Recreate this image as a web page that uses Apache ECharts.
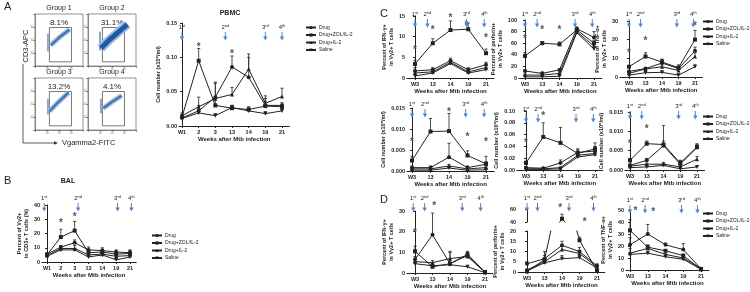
<!DOCTYPE html>
<html>
<head>
<meta charset="utf-8">
<script src="https://cdn.jsdelivr.net/npm/echarts@6/dist/echarts.min.js"></script>
<style>
  html, body { margin: 0; background: #fff; }
  #chart { width: 750px; height: 292px; }
</style>
</head>
<body>
<div id="chart"></div>
<script>
// treatment groups, shared by every line panel
const groups = ['Drug', 'Drug+ZOL/IL-2', 'Drug+IL-2', 'Saline'];
const groupSymbols = ['circle', 'rect', 'triangle', 'path://M0,0L10,0L5,9Z'];
const weeksAB = ['W1', '2', '3', '13', '14', '19', '21'];
const weeksCD = ['W3', '13', '14', '19', '21'];
const shotLabels = ['1st', '2nd', '3rd', '4th'];

// A: flow plots (percent gated)
const flowGroups = ['Group 1', 'Group 2', 'Group 3', 'Group 4'];
const flowPct = ['8.1%', '31.1%', '13.2%', '4.1%'];
const flowStreak = [[[27, 28], [27, 62]], [[25, 30], [25, 66]], [[27, 30], [27, 60]], [[27, 32], [27, 60]]];
const flowCloud = [
  [[33, 40], [52, 56], [72, 70]],
  [[27, 34], [44, 50], [62, 64], [82, 80]],
  [[30, 36], [50, 55], [70, 72]],
  [[32, 42], [50, 54], [70, 66]]
];
const flowGate = [[30, 8], [76, 74]];

// PBMC (cell number x10^6/ml), order = groups
const pbmcMean = [
  [0.012, 0.022, 0.042, 0.086, 0.071, 0.030, 0.030],
  [0.013, 0.095, 0.030, 0.026, 0.024, 0.029, 0.028],
  [0.015, 0.028, 0.040, 0.046, 0.083, 0.033, 0.043],
  [0.011, 0.019, 0.015, 0.027, 0.022, 0.018, 0.022]
];
const pbmcTop = [
  [0.016, 0.030, 0.062, 0.102, 0.100, 0.040, 0.034],
  [0.017, 0.113, 0.038, 0.030, 0.028, 0.036, 0.032],
  [0.019, 0.042, 0.064, 0.056, 0.105, 0.044, 0.055],
  [0.013, 0.024, 0.018, 0.030, 0.026, 0.021, 0.026]
];
const pbmcStars = [[1, 0.118], [3, 0.107]];
const pbmcShots = [0, 2.6, 5, 6];

// B: BAL percent of Vg2+ in CD3+
const balMean = [
  [5.5, 10.5, 13.5, 8.5, 8, 7, 6.5],
  [5, 17.5, 22, 6.5, 7, 5.5, 6],
  [4.5, 9.5, 9.5, 5, 5.5, 4, 4.5],
  [4, 8.5, 8.5, 3.5, 5, 1.5, 3.5]
];
const balTop = [
  [6.5, 11.5, 15.5, 10.5, 10, 8.5, 8.5],
  [6, 23, 28.5, 8.5, 9, 7, 8],
  [5.5, 11, 11.5, 6.5, 7, 5, 5.5],
  [5, 9.5, 9.5, 4.5, 6, 2, 4.5]
];
const balStars = [[1, 28.5], [2, 33]];
const balShots = [-0.2, 2.25, 5.1, 6.1];

// C row 1: percent IFN-g, perforin, TNF-a
const c1Mean = [[1.7, 2, 4.2, 2, 3.2], [3.4, 8.4, 11.6, 11.8, 6], [1.2, 1.5, 3.8, 1.5, 2.5], [0.5, 1.2, 3.5, 1.2, 2]];
const c1Top = [[2.5, 2.5, 4.8, 2.5, 3.8], [4.3, 9.5, 13.8, 13.3, 7], [1.8, 2, 4.3, 2, 3], [1, 1.6, 4, 1.5, 2.4]];
const c1Stars = [[0, 7.2], [1, 12], [2, 15], [2.9, 13.3], [4, 10]];
const c2Mean = [[12, 8, 14, 85, 70], [38, 60, 58, 83, 60], [5, 5, 8, 80, 55], [2, 2, 3, 78, 50]];
const c2Top = [[14, 10, 16, 88, 80], [44, 62, 62, 86, 65], [7, 7, 10, 83, 60], [3, 3, 4, 81, 54]];
const c2Stars = [[0, 70], [1, 86], [2, 86]];
const c3Mean = [[3, 4.5, 7.5, 4.5, 14], [5.5, 11, 8, 5, 20], [2, 4.3, 5.5, 3.5, 11], [1, 2.3, 2.5, 1, 5.5]];
const c3Top = [[3.5, 5, 9.5, 5.5, 16], [6, 13, 9.5, 6.5, 25], [2.5, 5, 6.5, 4.5, 13], [1.5, 3, 3, 1.5, 6.5]];
const c3Stars = [[0, 14], [1, 20], [4, 28]];
const cShots = [0, 0.7, 2.9, 3.9];

// C row 2: cell numbers
const c4Mean = [[0.0008, 0.0008, 0.0033, 0.0008, 0.0016], [0.0025, 0.0094, 0.0095, 0.0037, 0.0017], [0.0005, 0.0005, 0.0012, 0.0005, 0.0008], [0.0002, 0.0002, 0.0007, 0.0002, 0.0003]];
const c4Top = [[0.0012, 0.0012, 0.0066, 0.0012, 0.0035], [0.0035, 0.0125, 0.0137, 0.0048, 0.0022], [0.0007, 0.0007, 0.0016, 0.0007, 0.001], [0.0003, 0.0003, 0.0009, 0.0003, 0.0004]];
const c4Stars = [[0, 0.0074], [2, 0.0145], [3, 0.0086], [4, 0.0074]];
const c5Mean = [[0.004, 0.003, 0.012, 0.030, 0.032], [0.012, 0.056, 0.046, 0.028, 0.036], [0.002, 0.002, 0.004, 0.025, 0.028], [0.001, 0.001, 0.002, 0.022, 0.026]];
const c5Top = [[0.006, 0.004, 0.017, 0.036, 0.040], [0.015, 0.080, 0.072, 0.034, 0.046], [0.003, 0.003, 0.005, 0.030, 0.033], [0.002, 0.002, 0.003, 0.026, 0.030]];
const c5Stars = [[0, 0.048], [1, 0.094]];
const c6Mean = [[0.0012, 0.0025, 0.0063, 0.0015, 0.0058], [0.0025, 0.0068, 0.0066, 0.0018, 0.006], [0.001, 0.0015, 0.0015, 0.0008, 0.0028], [0.0006, 0.0008, 0.0012, 0.0003, 0.0008]];
const c6Top = [[0.0015, 0.003, 0.0075, 0.0025, 0.0065], [0.003, 0.0075, 0.0115, 0.0025, 0.0068], [0.0013, 0.0018, 0.002, 0.001, 0.0035], [0.0008, 0.001, 0.0015, 0.0005, 0.001]];
const c6Stars = [[0, 0.0072], [1, 0.011]];

// D: percent IFN-g, perforin (broken axis), TNF-a
const d1Mean = [[6.5, 18.5, 4.5, 8.5, 0.5], [10.5, 3, 4.5, 9, 0.5], [5.5, 5, 7, 8, 0.3], [4.5, 3.5, 4, 3, 0.2]];
const d1Top = [[8, 29, 10, 10, 1], [13, 4, 6, 10.5, 0.8], [7, 6, 10.5, 9, 0.6], [5.5, 4.5, 5, 3.5, 0.5]];
const d1Stars = [[0, 20], [1.1, 33.5]];
const d1Shots = [-0.1, 0.55, 2.7, 3.75];
const d2Mean = [[4, 6.5, 13, 10, 3], [0.3, 6, 45, 15.5, 0.5], [1, 5, 11, 9, 2.5], [0.5, 4.5, 6.5, 7, 2]];
const d2Top = [[5, 10, 15, 12, 4], [0.5, 8, 52, 17, 1], [1.5, 6.5, 13, 10.5, 3], [1, 5.5, 8, 8, 2.5]];
const d2Stars = [[1.9, 64], [3.3, 42]];
const d2Shots = [0, 0.6, 2.4, 3.8];
const d3Mean = [[21, 30, 21, 17, 1], [33, 19, 16, 12, 0.5], [14, 18, 13, 10, 1.5], [13, 14, 11, 9, 0.5]];
const d3Top = [[27, 38, 22.5, 22, 2], [42, 21, 17, 13, 1], [18, 20, 14, 11, 2], [14, 15, 12, 10, 1]];
const d3Stars = [[0.3, 51], [1.3, 50]];
const d3Shots = [0, 0.85, 2.9, 3.8];

const FONT = '"Liberation Sans", Arial, sans-serif';
const ink = '#222';
const shotBlue = '#4f86c6';

const grid = [], xAxis = [], yAxis = [], series = [], graphic = [];

function txt(style) {
  return Object.assign({ fontFamily: FONT, color: ink, fontWeight: 'bold' }, style);
}

function addPanel(p) {
  const gi = grid.length;
  const n = p.cats.length;
  const step = (p.lastX - p.firstX) / (n - 1);
  const xmin = -(p.firstX - p.axisX) / step;
  const xmax = n - 1 + 0.45;
  const idx = p.cats.map((c, i) => i);
  grid.push({ left: p.axisX, top: p.yTop, width: (xmax - xmin) * step, height: p.yBot - p.yTop });
  xAxis.push({
    gridIndex: gi, type: 'value', min: xmin, max: xmax, show: !p.hideX,
    splitLine: { show: false },
    axisLine: { onZero: false, lineStyle: { color: ink, width: 1 } },
    axisTick: { customValues: idx, length: 2, lineStyle: { color: ink } },
    axisLabel: txt({ customValues: idx, formatter: v => p.cats[Math.round(v)], fontSize: 5.5, margin: 3 }),
    name: p.xName || '', nameLocation: 'middle', nameGap: 10,
    nameTextStyle: txt({ fontSize: 6 })
  });
  yAxis.push({
    gridIndex: gi, type: 'value', min: p.ymin || 0, max: p.ymax, interval: p.interval,
    splitLine: { show: false },
    axisLine: { show: true, lineStyle: { color: ink, width: 1 } },
    axisTick: { show: true, length: 2, lineStyle: { color: ink } },
    axisLabel: txt({ formatter: v => v.toFixed(p.dec || 0), fontSize: 5.5, margin: 2 }),
    name: p.yName || '', nameLocation: 'middle', nameRotate: 90, nameGap: p.yGap || 12,
    nameTextStyle: txt({ fontSize: 5.5, lineHeight: 7 })
  });
  const ax = { xAxisIndex: gi, yAxisIndex: gi };
  // error bars (upper only)
  const bars = [];
  p.mean.forEach((row, k) => row.forEach((v, i) => bars.push([i, v, p.top[k][i]])));
  series.push(Object.assign({
    type: 'custom', clip: true, silent: true, z: 2, data: bars,
    renderItem: (params, api) => {
      const a = api.coord([api.value(0), api.value(1)]);
      const b = api.coord([api.value(0), api.value(2)]);
      return { type: 'group', children: [
        { type: 'line', shape: { x1: a[0], y1: a[1], x2: b[0], y2: b[1] }, style: { stroke: ink, lineWidth: 0.8 } },
        { type: 'line', shape: { x1: b[0] - 1.6, y1: b[1], x2: b[0] + 1.6, y2: b[1] }, style: { stroke: ink, lineWidth: 0.8 } }
      ] };
    }
  }, ax));
  // group lines
  p.mean.forEach((row, k) => {
    series.push(Object.assign({
      type: 'line', name: groups[k], data: row.map((v, i) => [i, v]), z: 3,
      symbol: groupSymbols[k], symbolSize: 4,
      lineStyle: { color: ink, width: 1 }, itemStyle: { color: ink }, clip: true
    }, ax));
  });
  if (p.stars) {
    series.push(Object.assign({
      type: 'custom', silent: true, z: 4, data: p.stars,
      renderItem: (params, api) => {
        const c = api.coord([api.value(0), api.value(1)]);
        return { type: 'text', style: { x: c[0], y: c[1] + 2, text: '*', fontSize: 10, fontFamily: FONT, fontWeight: 'bold', fill: '#555', align: 'center', verticalAlign: 'middle' } };
      }
    }, ax));
  }
  if (p.shots) addShots(p, ax, p.ymax);
  return gi;
}

function addShots(p, ax, ref) {
  series.push(Object.assign({
    type: 'custom', silent: true, z: 4, data: p.shots.map(s => [s]),
    renderItem: (params, api) => {
      const c = api.coord([api.value(0), ref]);
      const x = c[0], y = c[1] + p.shotDy;
      const lbl = shotLabels[params.dataIndex];
      return { type: 'group', children: [
        { type: 'text', style: {
          x: x, y: y, text: '{n|' + lbl[0] + '}{s|' + lbl.slice(1) + '}', align: 'center', verticalAlign: 'bottom',
          rich: { n: { fontSize: 6, fontFamily: FONT, fill: ink, color: ink }, s: { fontSize: 4, fontFamily: FONT, fill: ink, color: ink, padding: [0, 0, 3, 0] } }
        } },
        { type: 'line', shape: { x1: x, y1: y + 1, x2: x, y2: y + 8 }, style: { stroke: shotBlue, lineWidth: 1 } },
        { type: 'polygon', shape: { points: [[x - 2.2, y + 5.5], [x + 2.2, y + 5.5], [x, y + 9.5]] }, style: { fill: shotBlue } }
      ] };
    }
  }, ax));
}

const yCell = 'Cell number (x10⁶/ml)';
const yIfn = 'Percent of IFN-γ+\nin Vγ2+ T cells';
const yPerf = 'Percent of perforin+\nin Vγ2+ T cells';
const yTnf = 'Percent of TNF-α+\nin Vγ2+ T cells';
const xWeeks = 'Weeks after Mtb infection';

// PBMC and BAL
addPanel({ cats: weeksAB, axisX: 179, firstX: 182, lastX: 282, yTop: 23, yBot: 126, ymax: 0.15, interval: 0.05, dec: 2,
  mean: pbmcMean, top: pbmcTop, stars: pbmcStars, shots: pbmcShots, shotDy: 8, yName: yCell, yGap: 17, xName: xWeeks });
addPanel({ cats: weeksAB, axisX: 42, firstX: 47, lastX: 130, yTop: 205, yBot: 262, ymax: 40, interval: 10,
  mean: balMean, top: balTop, stars: balStars, shots: balShots, shotDy: -3, yName: 'Percent of Vγ2+\nin CD3+ T cells (%)', yGap: 9, xName: xWeeks });

// C
addPanel({ cats: weeksCD, axisX: 407, firstX: 415, lastX: 486, yTop: 16, yBot: 78, ymax: 15, interval: 5,
  mean: c1Mean, top: c1Top, stars: c1Stars, shots: cShots, shotDy: 2, yName: yIfn, yGap: 8, xName: xWeeks });
addPanel({ cats: weeksCD, axisX: 519, firstX: 525, lastX: 594, yTop: 20, yBot: 78, ymax: 100, interval: 20,
  mean: c2Mean, top: c2Top, stars: c2Stars, shots: cShots, shotDy: -2, yName: yPerf, yGap: 10, xName: xWeeks });
addPanel({ cats: weeksCD, axisX: 620, firstX: 629, lastX: 695, yTop: 21, yBot: 77, ymax: 30, interval: 10,
  mean: c3Mean, top: c3Top, stars: c3Stars, shots: cShots, shotDy: -3, yName: yTnf, yGap: 8, xName: xWeeks });
addPanel({ cats: weeksCD, axisX: 407, firstX: 412, lastX: 486, yTop: 108, yBot: 171, ymax: 0.015, interval: 0.005, dec: 3,
  mean: c4Mean, top: c4Top, stars: c4Stars, shots: cShots, shotDy: 0, yName: yCell, yGap: 17, xName: xWeeks });
addPanel({ cats: weeksCD, axisX: 517, firstX: 526, lastX: 595, yTop: 111, yBot: 170, ymax: 0.10, interval: 0.02, dec: 2,
  mean: c5Mean, top: c5Top, stars: c5Stars, shots: cShots, shotDy: 2, yName: yCell, yGap: 15, xName: xWeeks });
addPanel({ cats: weeksCD, axisX: 625, firstX: 630, lastX: 697, yTop: 112, yBot: 170, ymax: 0.015, interval: 0.005, dec: 3,
  mean: c6Mean, top: c6Top, stars: c6Stars, shots: cShots, shotDy: -2, yName: yCell, yGap: 17, xName: xWeeks });

// D
addPanel({ cats: weeksCD, axisX: 407, firstX: 415, lastX: 485, yTop: 211, yBot: 273, ymax: 30, interval: 10,
  mean: d1Mean, top: d1Top, stars: d1Stars, shots: d1Shots, shotDy: -9, yName: yIfn, yGap: 8, xName: xWeeks });
addPanel({ cats: weeksCD, axisX: 518, firstX: 527, lastX: 597, yTop: 231, yBot: 272, ymax: 20, interval: 5,
  mean: d2Mean, top: d2Top, yName: yPerf, yGap: 8, xName: xWeeks });
addPanel({ cats: weeksCD, axisX: 518, firstX: 527, lastX: 597, yTop: 209, yBot: 222, ymin: 40, ymax: 60, interval: 20,
  mean: d2Mean, top: d2Top, stars: d2Stars, shots: d2Shots, shotDy: -7, hideX: true });
addPanel({ cats: weeksCD, axisX: 626, firstX: 630, lastX: 701, yTop: 210, yBot: 270, ymax: 50, interval: 10,
  mean: d3Mean, top: d3Top, stars: d3Stars, shots: d3Shots, shotDy: -6, yName: yTnf, yGap: 8, xName: xWeeks });

// A: four flow plots
const flowBoxes = [[35, 14], [88, 14], [35, 78], [88, 78]];
flowBoxes.forEach((b, k) => {
  const gi = grid.length;
  grid.push({ left: b[0], top: b[1], width: 48, height: 52, show: true, borderColor: '#666', borderWidth: 0.7 });
  const axBase = {
    gridIndex: gi, type: 'value', min: 0, max: 100, interval: 25, splitLine: { show: false },
    axisLine: { lineStyle: { color: '#666', width: 0.7 } }, axisTick: { length: 1.5, lineStyle: { color: '#666' } },
    axisLabel: { fontSize: 3, color: '#777', margin: 1.5, formatter: v => (v > 0 && v < 100 ? '10' : '') }
  };
  xAxis.push(Object.assign({}, axBase));
  yAxis.push(Object.assign({}, axBase));
  const ax = { xAxisIndex: gi, yAxisIndex: gi };
  series.push(Object.assign({ type: 'line', data: flowStreak[k], symbol: 'none', silent: true,
    lineStyle: { color: '#8fa8c8', width: 2 } }, ax));
  series.push(Object.assign({ type: 'line', data: flowCloud[k], symbol: 'none', silent: true,
    lineStyle: { color: '#9dbbe0', width: k === 1 ? 9 : 5 } }, ax));
  series.push(Object.assign({ type: 'line', data: flowCloud[k], symbol: 'none', silent: true,
    lineStyle: { color: k === 1 ? '#1f5aa6' : '#3b6fb0', width: k === 1 ? 5 : 2 },
    markArea: { silent: true, itemStyle: { color: 'rgba(0,0,0,0)', borderColor: '#555', borderWidth: 0.8 },
      data: [[{ coord: flowGate[0] }, { coord: flowGate[1] }]] } }, ax));
  graphic.push({ type: 'text', x: b[0] + 24, y: b[1] - 6, style: { text: flowGroups[k], font: '7px ' + FONT, fill: ink, align: 'center', verticalAlign: 'middle' } });
  graphic.push({ type: 'text', x: b[0] + 24, y: b[1] + 9, style: { text: flowPct[k], font: '8px ' + FONT, fill: ink, align: 'center', verticalAlign: 'middle' } });
});

// panel letters, titles and the flow axis labels
const labels = [
  ['A', 4, 7, 11, 'normal', 'left'], ['B', 4, 181, 11, 'normal', 'left'],
  ['C', 380, 14, 11, 'normal', 'left'], ['D', 380, 200, 11, 'normal', 'left'],
  ['PBMC', 230, 13, 7, 'bold', 'center'], ['BAL', 68, 181, 7, 'bold', 'center'],
  ['Vgamma2-FITC', 62, 143, 7.5, 'normal', 'left']
];
labels.forEach(l => graphic.push({ type: 'text', x: l[1], y: l[2],
  style: { text: l[0], font: l[4] + ' ' + l[3] + 'px ' + FONT, fill: ink, align: l[5], verticalAlign: 'middle' } }));
graphic.push({ type: 'text', x: 26, y: 46, rotation: Math.PI / 2,
  style: { text: 'CD3-APC', font: '7.5px ' + FONT, fill: ink, align: 'center', verticalAlign: 'middle' } });
graphic.push({ type: 'polyline', shape: { points: [[23, 64], [23, 143], [56, 143]] }, style: { stroke: '#333', lineWidth: 0.8, fill: null } });
graphic.push({ type: 'polygon', shape: { points: [[54, 141.3], [58, 143], [54, 144.7]] }, style: { fill: '#333' } });

const legendBase = {
  orient: 'vertical', data: groups, itemWidth: 10, itemHeight: 4, itemGap: 2.5, selectedMode: false,
  textStyle: { fontFamily: FONT, color: ink, fontSize: 5, padding: [0, 0, 0, -2] }
};
const legend = [[300, 20], [146, 228], [697, 14], [697, 109], [697, 206]]
  .map(p => Object.assign({ left: p[0], top: p[1] }, legendBase));

const chart = echarts.init(document.getElementById('chart'), null, { renderer: 'canvas' });
chart.setOption({
  animation: false,
  backgroundColor: '#fff',
  textStyle: { fontFamily: FONT },
  grid, xAxis, yAxis, series, legend, graphic
});
</script>
</body>
</html>
